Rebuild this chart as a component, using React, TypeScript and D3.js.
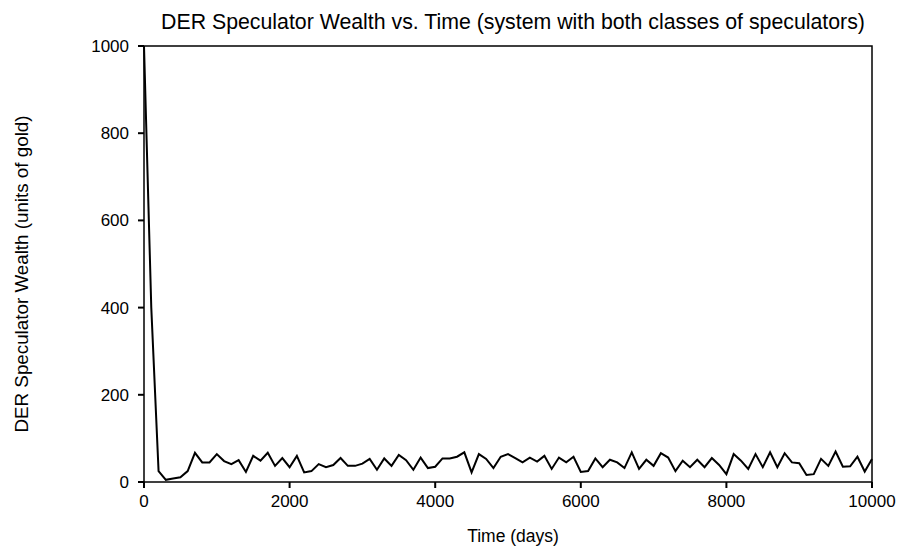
import React from "react";
import * as d3 from "d3";

const times: number[] = [
  0, 100, 200, 300, 400, 500, 600, 700, 800, 900,
  1000, 1100, 1200, 1300, 1400, 1500, 1600, 1700, 1800, 1900,
  2000, 2100, 2200, 2300, 2400, 2500, 2600, 2700, 2800, 2900,
  3000, 3100, 3200, 3300, 3400, 3500, 3600, 3700, 3800, 3900,
  4000, 4100, 4200, 4300, 4400, 4500, 4600, 4700, 4800, 4900,
  5000, 5100, 5200, 5300, 5400, 5500, 5600, 5700, 5800, 5900,
  6000, 6100, 6200, 6300, 6400, 6500, 6600, 6700, 6800, 6900,
  7000, 7100, 7200, 7300, 7400, 7500, 7600, 7700, 7800, 7900,
  8000, 8100, 8200, 8300, 8400, 8500, 8600, 8700, 8800, 8900,
  9000, 9100, 9200, 9300, 9400, 9500, 9600, 9700, 9800, 9900,
  10000,
];

const wealth: number[] = [
  1000, 400, 25, 5, 8, 11, 25, 67, 45, 45,
  64, 48, 41, 50, 23, 60, 49, 67, 37, 55,
  34, 60, 22, 25, 41, 34, 39, 55, 37, 37,
  42, 53, 28, 54, 37, 62, 50, 28, 56, 32,
  35, 54, 54, 58, 68, 22, 64, 53, 32, 58,
  64, 55, 45, 56, 47, 60, 30, 56, 45, 58,
  23, 25, 54, 34, 51, 45, 32, 68, 30, 51,
  37, 66, 56, 25, 49, 34, 51, 34, 55, 39,
  18, 64, 49, 30, 64, 34, 68, 34, 66, 45,
  43, 16, 18, 53, 37, 70, 35, 36, 58, 24,
  53,
];

const xTicks: number[] = [0, 2000, 4000, 6000, 8000, 10000];
const yTicks: number[] = [0, 200, 400, 600, 800, 1000];

const title = "DER Speculator Wealth vs. Time (system with both classes of speculators)";
const xLabel = "Time (days)";
const yLabel = "DER Speculator Wealth (units of gold)";

export default function App() {
  const W = 901;
  const H = 548;
  const left = 144;
  const right = 872;
  const top = 46;
  const bottom = 482;
  const x = d3.scaleLinear().domain([0, 10000]).range([left, right]);
  const y = d3.scaleLinear().domain([0, 1000]).range([bottom, top]);
  const pts: [number, number][] = times.map((t, i) => [t, wealth[i]]);
  const line = d3
    .line<[number, number]>()
    .x((d) => x(d[0]))
    .y((d) => y(d[1]));
  const font = "'Liberation Sans', Arial, Helvetica, sans-serif";
  return (
    <svg
      width={W}
      height={H}
      style={{ position: "absolute", left: 0, top: 0, background: "#fff" }}
      fontFamily={font}
    >
      <rect x={0} y={0} width={W} height={H} fill="#fff" />
      <text x={513} y={29} textAnchor="middle" fontSize={21.3} fill="#000">
        {title}
      </text>
      <rect
        x={left}
        y={top}
        width={right - left}
        height={bottom - top}
        fill="none"
        stroke="#000"
        strokeWidth={1.5}
      />
      {yTicks.map((v) => (
        <g key={"y" + v}>
          <line x1={left - 6} x2={left} y1={y(v)} y2={y(v)} stroke="#000" strokeWidth={2} />
          <text
            x={left - 15}
            y={y(v) + 6}
            textAnchor="end"
            fontSize={17}
            fill="#000"
          >
            {v}
          </text>
        </g>
      ))}
      {xTicks.map((v) => (
        <g key={"x" + v}>
          <line x1={x(v)} x2={x(v)} y1={bottom} y2={bottom + 6} stroke="#000" strokeWidth={2} />
          <text x={x(v)} y={bottom + 25} textAnchor="middle" fontSize={17} fill="#000">
            {v}
          </text>
        </g>
      ))}
      <path d={line(pts) || ""} fill="none" stroke="#000" strokeWidth={2} strokeLinejoin="miter" />
      <text x={513} y={542} textAnchor="middle" fontSize={17.5} fill="#000">
        {xLabel}
      </text>
      <text
        transform={`translate(28, 274) rotate(-90)`}
        textAnchor="middle"
        fontSize={18.8}
        fill="#000"
      >
        {yLabel}
      </text>
    </svg>
  );
}
